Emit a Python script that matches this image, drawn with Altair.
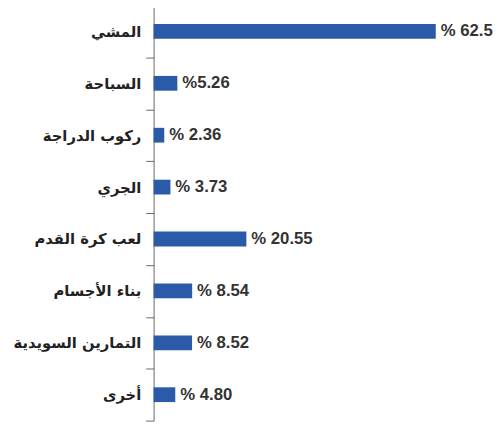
import altair as alt
import pandas as pd

categories = ["المشي", "السباحة", "ركوب الدراجة", "الجري", "لعب كرة القدم",
              "بناء الأجسام", "التمارين السويدية", "أخرى"]
values = [62.5, 5.26, 2.36, 3.73, 20.55, 8.54, 8.52, 4.80]
value_labels = ["% 62.5", "%5.26", "% 2.36", "% 3.73", "% 20.55", "% 8.54", "% 8.52", "% 4.80"]

df = pd.DataFrame({"cat": categories, "val": values, "lab": value_labels})

y = alt.Y("cat:N", sort=categories,
          scale=alt.Scale(paddingInner=0, paddingOuter=0),
          axis=alt.Axis(title=None, domainColor="#666", tickColor="#666", tickSize=8,
                        tickBand="extent", labelFont="DejaVu Sans", labelFontWeight="bold",
                        labelFontSize=15, labelColor="#222", labelPadding=5))
x = alt.X("val:Q", scale=alt.Scale(domain=[0, 75.4], nice=False), axis=None)

bars = alt.Chart(df).mark_bar(size=15, color="#2B5BA8").encode(x=x, y=y)
text = alt.Chart(df).mark_text(align="left", baseline="middle", dx=5,
                               font="Liberation Sans", fontWeight="bold",
                               fontSize=17, color="#333").encode(x=x, y=y, text="lab:N")

chart = (bars + text).properties(
    width=346, height=422,
    autosize=alt.AutoSizeParams(type="none"),
    padding={"left": 148, "top": -6, "right": 0, "bottom": 0},
).configure_view(stroke=None)

chart.save("out.html", embed_options={"renderer": "svg", "actions": False})
